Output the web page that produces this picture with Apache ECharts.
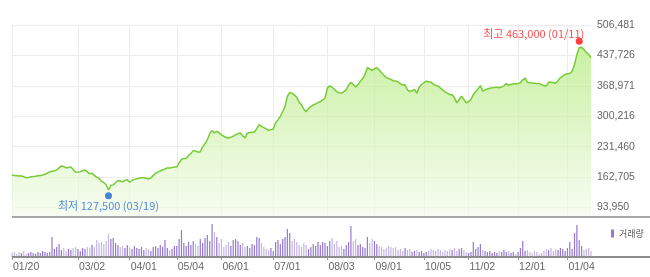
<!DOCTYPE html>
<html><head><meta charset="utf-8">
<script src="https://cdn.jsdelivr.net/npm/echarts@6/dist/echarts.min.js"></script>
<style>html,body{margin:0;padding:0;background:#fff}#c{width:650px;height:277px}</style>
</head><body><div id="c"></div>
<script>
const dates = [
'01/20','01/21','01/22','01/23','01/28','01/29','01/30','01/31',
'02/03','02/04','02/05','02/06','02/07','02/10','02/11','02/12','02/13','02/14','02/17','02/18','02/19','02/20','02/21','02/24','02/25','02/26','02/27','02/28',
'03/02','03/03','03/04','03/05','03/06','03/09','03/10','03/11','03/12','03/13','03/16','03/17','03/18','03/19','03/20','03/23','03/24','03/25','03/26','03/27','03/30','03/31',
'04/01','04/02','04/03','04/06','04/07','04/08','04/09','04/10','04/13','04/14','04/16','04/17','04/20','04/21','04/22','04/23','04/24','04/27','04/28','04/29',
'05/04','05/06','05/07','05/08','05/11','05/12','05/13','05/14','05/15','05/18','05/19','05/20','05/21','05/22','05/25','05/26','05/27','05/28','05/29',
'06/01','06/02','06/03','06/04','06/05','06/08','06/09','06/10','06/11','06/12','06/15','06/16','06/17','06/18','06/19','06/22','06/23','06/24','06/25','06/26','06/29','06/30',
'07/01','07/02','07/03','07/06','07/07','07/08','07/09','07/10','07/13','07/14','07/15','07/16','07/17','07/20','07/21','07/22','07/23','07/24','07/27','07/28','07/29','07/30','07/31',
'08/03','08/04','08/05','08/06','08/07','08/10','08/11','08/12','08/13','08/14','08/18','08/19','08/20','08/21','08/24','08/25','08/26','08/27','08/28','08/31',
'09/01','09/02','09/03','09/04','09/07','09/08','09/09','09/10','09/11','09/14','09/15','09/16','09/17','09/18','09/21','09/22','09/23','09/24','09/25','09/28','09/29',
'10/05','10/06','10/07','10/08','10/12','10/13','10/14','10/15','10/16','10/19','10/20','10/21','10/22','10/23','10/26','10/27','10/28','10/29','10/30',
'11/02','11/03','11/04','11/05','11/06','11/09','11/10','11/11','11/12','11/13','11/16','11/17','11/18','11/19','11/20','11/23','11/24','11/25','11/26','11/27','11/30',
'12/01','12/02','12/03','12/04','12/07','12/08','12/09','12/10','12/11','12/14','12/15','12/16','12/17','12/18','12/21','12/22','12/23','12/24','12/28','12/29','12/30',
'01/04','01/05','01/06','01/07','01/08','01/11','01/12','01/13','01/14','01/15','01/18'
];
const price = [
167500,166500,166000,165000,165500,163500,161000,161500,163500,164000,
164500,165500,166000,167500,169000,171500,174500,176000,177000,179000,
183500,188000,186500,183500,184500,185500,180000,173500,174000,175000,
177000,179000,174500,170000,171500,166500,162000,160000,153000,150500,
145500,133500,144500,145000,150500,155000,154000,152000,155500,156500,
151000,155000,157500,159000,160000,161000,161000,160000,158500,161000,
166000,171500,174000,176500,179500,181000,183500,183000,184500,185500,
185500,195000,203000,204500,205500,211500,216000,222500,221500,219000,
220000,231000,238000,247000,260500,268000,262500,266000,262500,258000,
255000,252000,251000,253000,255000,258500,261000,262500,256000,251500,
262000,263500,264000,264500,272000,281500,277500,274500,271500,268500,
270000,271500,285500,292000,300000,311000,322000,345000,354000,352500,
348000,343000,332000,326000,316000,310500,318000,322000,326000,328000,
331000,333500,337000,341500,364500,369000,366000,360500,356000,353500,
352500,356000,360000,370500,377000,372000,366500,372000,379000,385500,
395000,410000,407000,404000,407500,410000,405000,398500,393000,387500,
385500,383500,380500,380000,378000,374000,371000,371500,360000,356000,
358000,361000,352000,366000,372000,376000,379500,378000,377500,373000,
370000,368500,364000,360000,355000,352500,349000,349000,342000,330500,
338000,345500,338000,330500,334000,338000,349000,356000,362000,369500,
357000,360000,362000,363500,364500,365000,366000,364500,366500,369000,
374000,370000,372000,374000,373000,374000,376000,382000,386500,377000,
376000,375500,375000,374500,374000,372000,369500,368500,377500,377000,
376000,375000,381000,387500,391000,395000,396500,397000,402000,417000,
440000,455000,456000,451000,445000,440000,432500
];
const volume = [
4,5,3,5,4,6,3,4,5,4,
3,5,4,6,5,4,5,20,8,10,
13,7,9,6,8,7,9,10,8,6,
9,8,10,9,12,10,17,14,15,13,
16,23,18,19,14,12,10,11,9,12,
10,8,11,9,8,10,7,9,8,6,
10,11,9,12,10,17,9,7,8,11,
11,18,27,14,11,15,12,16,13,11,
18,14,19,22,16,33,25,20,14,18,
10,12,15,11,17,18,16,12,14,10,
11,9,13,12,20,19,14,10,8,7,
9,6,15,17,13,18,20,28,24,16,
18,15,12,10,14,12,8,10,13,11,
15,12,15,14,11,16,19,13,16,10,
11,8,12,15,31,16,18,12,13,10,
9,20,14,18,16,13,11,10,8,9,
11,10,9,10,7,8,6,9,7,8,
5,6,7,5,6,4,5,6,8,7,
6,8,7,5,7,6,8,7,9,6,
8,9,7,5,4,5,15,8,10,13,
7,6,5,6,4,5,4,6,5,7,
5,6,4,5,3,5,9,16,6,7,
5,4,6,5,3,4,6,8,7,9,
6,8,7,9,8,6,9,15,8,24,
32,17,11,7,8,9,6
];
const yTicks = [93950,162705,231460,300216,368971,437726,506481];
const xTickLabels = ['01/20','03/02','04/01','05/04','06/01','07/01','08/03','09/01','10/05','11/02','12/01','01/04'];
const highPoint = {date:'01/11', value:463000, text:'최고 463,000 (01/11)'};
const lowPoint = {date:'03/19', value:127500, text:'최저 127,500 (03/19)'};
const volumeName = '거래량';

const font = '"Liberation Sans", Arial, sans-serif';
const kfont = '"Noto Sans CJK KR", sans-serif';
const isTick = (i) => xTickLabels.indexOf(dates[i]) >= 0;
const fmt = (v) => String(Math.round(v)).replace(/\B(?=(\d{3})+(?!\d))/g, ',');

const chart = echarts.init(document.getElementById('c'), null, {renderer:'canvas'});
chart.setOption({
  animation:false,
  grid:[{left:12,right:59,top:25,bottom:60},{left:12,right:59,top:218,bottom:20}],
  xAxis:[
    {type:'category',gridIndex:0,data:dates,boundaryGap:false,
     axisLine:{show:false},axisTick:{show:false},axisLabel:{show:false},
     splitLine:{show:true,interval:(i)=>isTick(i),lineStyle:{color:'#ececec',width:1}}},
    {type:'category',gridIndex:1,data:dates,boundaryGap:false,
     axisLine:{show:false},
     axisTick:{show:true,interval:(i)=>isTick(i),length:3,inside:false,lineStyle:{color:'#999'}},
     axisLabel:{interval:(i)=>isTick(i),align:'left',margin:5,color:'#666',fontSize:10.5,fontFamily:font,padding:[0,0,0,1]},
     splitLine:{show:false}}
  ],
  yAxis:[
    {type:'value',gridIndex:0,position:'right',min:72500,max:506481,
     axisLine:{show:false},axisTick:{show:false,customValues:yTicks},
     axisLabel:{customValues:yTicks,formatter:(v)=>fmt(v),color:'#666',fontSize:10.5,margin:6,fontFamily:font},
     splitLine:{show:true,lineStyle:{color:'#ececec',width:1}}},
    {type:'value',gridIndex:1,min:0,max:39,show:false,splitLine:{show:false}}
  ],
  legend:{data:[{name:volumeName,icon:'rect',itemStyle:{color:'#9478d2'}}],left:606,top:224,itemWidth:3,itemHeight:8,itemGap:3,
    textStyle:{fontSize:9,color:'#555',fontFamily:kfont}},
  series:[
    {type:'line',xAxisIndex:0,yAxisIndex:0,data:price,symbol:'none',
     lineStyle:{color:'#76cc35',width:1.5},
     areaStyle:{color:new echarts.graphic.LinearGradient(0,0,0,1,[{offset:0,color:'#b3ea7c'},{offset:1,color:'#f3fbec'}])},z:2},
    {type:'scatter',xAxisIndex:0,yAxisIndex:0,data:[[highPoint.date,highPoint.value]],symbolSize:7,symbolOffset:[0,-3],
     itemStyle:{color:'#ff1010'},z:5,
     label:{show:true,position:'top',distance:1,align:'right',offset:[5,3],formatter:highPoint.text,color:'#ff2020',fontSize:11,fontFamily:kfont}},
    {type:'scatter',xAxisIndex:0,yAxisIndex:0,data:[[lowPoint.date,lowPoint.value]],symbolSize:7,symbolOffset:[0,3],
     itemStyle:{color:'#1a66d6'},z:5,
     label:{show:true,position:'bottom',distance:1,formatter:lowPoint.text,color:'#2a6fd0',fontSize:11,fontFamily:kfont}},
    {type:'bar',name:volumeName,xAxisIndex:1,yAxisIndex:1,data:volume,barWidth:1.2,
     itemStyle:{color:(p)=> (p.dataIndex>0 && price[p.dataIndex] >= price[p.dataIndex-1]) ? '#9478d2' : '#c4b6e6'}}
  ],
  graphic:[
    {type:'line',shape:{x1:12,y1:217,x2:650,y2:217},style:{stroke:'#a8a8a8',lineWidth:2},z:10},
    {type:'line',shape:{x1:12,y1:257,x2:650,y2:257},style:{stroke:'#8c8c8c',lineWidth:2},z:10}
  ]
});
</script></body></html>
